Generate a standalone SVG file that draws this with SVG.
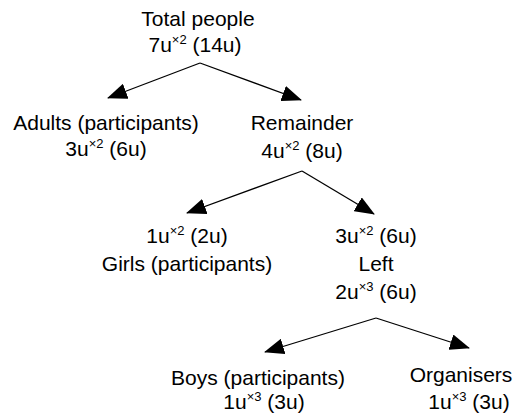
<svg xmlns="http://www.w3.org/2000/svg" width="522" height="414" viewBox="0 0 522 414">
  <style>
    text { font-family: "Liberation Sans", Arial, sans-serif; font-size: 21px; fill: #000; text-anchor: middle; }
    .sup { font-size: 13px; }
    .edge { stroke: #000; stroke-width: 1.3; fill: none; marker-end: url(#head); }
  </style>
  <defs>
    <marker id="head" markerUnits="userSpaceOnUse" markerWidth="20" markerHeight="16" viewBox="0 0 20 16" refX="19" refY="8" orient="auto">
      <path d="M0,0 L20,8 L0,16 Z" fill="#000"/>
    </marker>
  </defs>
  <rect width="522" height="414" fill="#fff"/>

  <g id="connectors">
    <line class="edge" x1="200" y1="63" x2="108" y2="98"/>
    <line class="edge" x1="200" y1="63" x2="301" y2="100"/>
    <line class="edge" x1="302" y1="171" x2="187" y2="213"/>
    <line class="edge" x1="302" y1="171" x2="374" y2="214"/>
    <line class="edge" x1="376" y1="318" x2="265" y2="352"/>
    <line class="edge" x1="376" y1="318" x2="469" y2="348"/>
  </g>

  <g id="total">
    <text x="198" y="26">Total people</text>
    <text x="195" y="52">7u<tspan class="sup" dy="-8">×2</tspan><tspan dy="8"> (14u)</tspan></text>
  </g>

  <g id="adults">
    <text x="106" y="130">Adults (participants)</text>
    <text x="106" y="156">3u<tspan class="sup" dy="-8">×2</tspan><tspan dy="8"> (6u)</tspan></text>
  </g>

  <g id="remainder">
    <text x="302" y="130">Remainder</text>
    <text x="302" y="158">4u<tspan class="sup" dy="-8">×2</tspan><tspan dy="8"> (8u)</tspan></text>
  </g>

  <g id="girls">
    <text x="187" y="243">1u<tspan class="sup" dy="-8">×2</tspan><tspan dy="8"> (2u)</tspan></text>
    <text x="187" y="271">Girls (participants)</text>
  </g>

  <g id="left">
    <text x="376" y="243">3u<tspan class="sup" dy="-8">×2</tspan><tspan dy="8"> (6u)</tspan></text>
    <text x="376" y="271">Left</text>
    <text x="376" y="299">2u<tspan class="sup" dy="-8">×3</tspan><tspan dy="8"> (6u)</tspan></text>
  </g>

  <g id="boys">
    <text x="258" y="385">Boys (participants)</text>
    <text x="264" y="409">1u<tspan class="sup" dy="-8">×3</tspan><tspan dy="8"> (3u)</tspan></text>
  </g>

  <g id="organisers">
    <text x="461" y="382">Organisers</text>
    <text x="469" y="409">1u<tspan class="sup" dy="-8">×3</tspan><tspan dy="8"> (3u)</tspan></text>
  </g>
</svg>
